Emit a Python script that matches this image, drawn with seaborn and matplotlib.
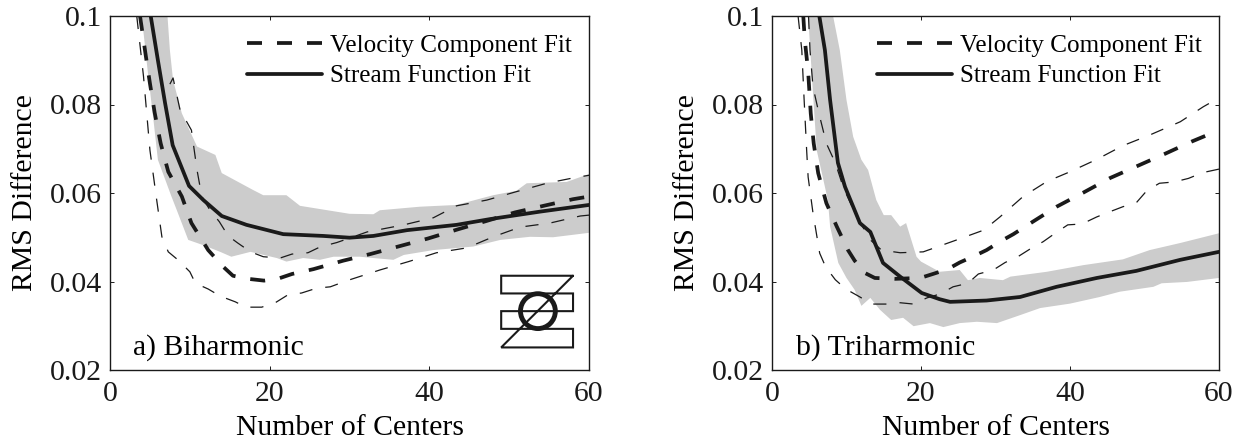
import matplotlib

matplotlib.use("Agg")
import matplotlib.pyplot as plt
import numpy as np
import pandas as pd
import seaborn as sns

# panel a) Biharmonic
a_stream_x = [5.1, 6.0, 6.9, 7.85, 9.9, 11.7, 14, 17.1, 21.7, 26.7, 30, 33, 37.2, 43.4, 47.6, 53.9, 60]
a_stream_y = [.1, .090, .0803, .0708, .0616, .0584, .0548, .0528, .0507, .0503, .0499, .0503, .0516, .0528, .0541, .0558, .0573]
a_vel_x = [3.76, 4.5, 5, 5.6, 6.35, 7.3, 9, 10.2, 12.3, 14.2, 15.4, 17.3, 19.3, 21, 22.8, 25.5, 29.2, 32.6, 36.3, 39.8, 43.6, 47.2, 50.7, 54.3, 58, 60]
a_vel_y = [.1, .0908, .0848, .0781, .0712, .0648, .0592, .0532, .0471, .0433, .0413, .0406, .0402, .0406, .0417, .0428, .0447, .0462, .048, .0497, .0518, .0537, .0556, .0571, .0586, .0592]
a_vel_hi_x = [7.5, 7.9, 8.77, 10.2, 10.9, 11.5, 12.5, 13.7, 14.8, 16, 17.6, 19.2, 21.3, 22.8, 24.8, 26.3, 28.4, 30, 32.2, 36.8, 40.5, 43.4, 47.2, 50.9, 54.7, 58, 60]
a_vel_hi_y = [.0846, .086, .0788, .0742, .0652, .0592, .0562, .0535, .0503, .0487, .0467, .0456, .0453, .0462, .0465, .0478, .0488, .0498, .0512, .0528, .0544, .0571, .0584, .0603, .0622, .0634, .0640]
a_vel_lo_x = [3.35, 4.2, 5, 5.85, 6.5, 7.3, 8.5, 10, 10.7, 12.3, 13.8, 15.7, 17, 19, 20.7, 22.3, 24, 25.9, 27.6, 29.7, 33.8, 37.4, 40.9, 44.7, 48, 51.4, 55.1, 58.9, 60]
a_vel_lo_y = [.1, .0863, .0697, .0584, .0501, .0467, .0449, .0422, .0396, .0383, .0367, .0354, .0342, .0342, .0352, .037, .0374, .0385, .0388, .0402, .0426, .0445, .0465, .0476, .0501, .0523, .0532, .0548, .055]
a_band_hi_x = [7.2, 7.5, 7.9, 9, 10.9, 13.2, 14, 17.9, 19.2, 22.1, 23.8, 30, 33, 33.8, 38.8, 43.4, 48, 50.9, 52.2, 57.2, 60]
a_band_hi_y = [.1, .0923, .0855, .078, .0705, .0686, .0645, .0607, .0595, .0595, .0571, .0553, .0552, .0561, .0569, .0573, .0595, .0605, .0622, .0625, .0643]
a_band_lo_x = [3.97, 4.8, 5.4, 6, 7.7, 8.35, 9.8, 11.7, 13.8, 15.2, 17.6, 20.9, 22.1, 24.2, 26.3, 28, 31.3, 33, 35.5, 36.8, 40.5, 45.5, 48.9, 52.6, 55.5, 60]
a_band_lo_y = [.1, .0863, .0772, .0675, .0592, .0562, .0494, .0482, .0467, .0456, .0467, .0453, .0445, .0453, .0449, .0456, .0456, .0453, .0449, .046, .0471, .0479, .0494, .0501, .05, .051]

# panel b) Triharmonic
b_stream_x = [6.35, 7.1, 7.8, 8.85, 9.8, 11.8, 13.2, 14.9, 17.2, 20.1, 22.5, 23.9, 28.8, 33.3, 38.2, 43.6, 48.9, 54.8, 60]
b_stream_y = [.1, .0923, .081, .0668, .0614, .0532, .0512, .0442, .0411, .0374, .036, .0354, .0357, .0365, .0388, .0408, .0424, .0449, .0467]
b_vel_x = [4.2, 4.4, 4.85, 5.2, 5.6, 6.2, 7.3, 8.7, 10.2, 11.1, 12.5, 13.8, 16.5, 19.9, 21.6, 23.6, 25.2, 27.2, 28.8, 30.8, 32.4, 35, 38.2, 41.8, 45.4, 48.9, 52.8, 56.3, 60]
b_vel_y = [.1, .0946, .0875, .078, .0712, .0645, .0577, .0524, .0471, .0447, .0419, .0408, .0406, .0408, .0417, .0428, .0443, .0458, .0471, .0492, .0507, .0535, .0569, .0601, .0634, .066, .0689, .0716, .0742]
b_vel_hi_x = [4.9, 5.1, 5.5, 6.3, 7.3, 8.5, 9.6, 11.4, 13.2, 14.7, 17.2, 20.3, 24.8, 28.4, 30.6, 33.7, 36.9, 40, 43.6, 47.1, 50.7, 54.8, 57.9, 60]
b_vel_hi_y = [.1, .0923, .084, .078, .0712, .0668, .0611, .0546, .0494, .0471, .0465, .0467, .0494, .0516, .0546, .0592, .0626, .0648, .0676, .0707, .0731, .0761, .0795, .0815]
b_vel_lo_x = [3.5, 4, 4.3, 4.65, 4.85, 5.5, 6.4, 7.2, 8.5, 9.9, 11.7, 13.4, 15.4, 17.2, 19, 20.8, 22.6, 24.3, 26.3, 27.7, 29.7, 31.3, 33, 34.6, 36.4, 38, 39.7, 41.6, 43.6, 45.4, 47.1, 48.9, 50.3, 52, 54, 55.9, 57.8, 60]
b_vel_lo_y = [.1, .0923, .0815, .0697, .0636, .0555, .0464, .0433, .0404, .0383, .0366, .0349, .0349, .0352, .0349, .0363, .0372, .0388, .0396, .0417, .0426, .0443, .0456, .0473, .049, .0509, .0528, .053, .0546, .0558, .0569, .0578, .0605, .0622, .0625, .0633, .0646, .0654]
b_band_hi_x = [8.2, 9.1, 10, 10.9, 12, 12.9, 14, 15, 16, 17.2, 18, 19.4, 20, 22.5, 25.2, 26.3, 27.9, 31, 32, 36.9, 41.8, 47.1, 50.7, 54.8, 60]
b_band_hi_y = [.1, .0923, .081, .0727, .0675, .0652, .0584, .055, .055, .0524, .0532, .0456, .0445, .0422, .0426, .0403, .0408, .0403, .0411, .0422, .0437, .045, .0471, .0487, .0509]
b_band_lo_x = [4.85, 5.5, 6, 7.5, 7.8, 8.9, 10, 11.1, 12, 13.2, 14.5, 16, 17.6, 19, 21.2, 23, 25.2, 27.5, 30.2, 33.3, 36, 40, 44, 46.7, 51.2, 52.3, 55.7, 60]
b_band_lo_y = [.1, .0826, .0697, .0584, .0524, .0442, .0408, .0381, .0345, .0363, .0336, .0313, .0318, .0299, .0306, .0297, .0306, .0309, .0306, .0324, .034, .035, .0365, .0377, .0388, .0396, .0399, .0408]

# the little cylinder sketch in panel a
icon_x = [58, 49, 49, 58, 58, 49, 49, 58, 58, 49, 58]
icon_y = [.0413, .0413, .0373, .0373, .0333, .0333, .0293, .0293, .0251, .0251, .0413]
circle_x = [53.6]
circle_y = [.0333]

x_ticks = [0, 20, 40, 60]
y_ticks = [0.02, 0.04, 0.06, 0.08, 0.1]
y_tick_labels = ["0.02", "0.04", "0.06", "0.08", "0.1"]

sns.set_theme(style="ticks")
plt.rcParams["font.family"] = ["Liberation Serif", "DejaVu Serif"]
plt.rcParams["text.color"] = "black"
plt.rcParams["axes.labelcolor"] = "black"

GREY = "#cccccc"
W, H = 1242, 441
FONT = 21.4


def long_table(xs, ys, name):
    return pd.DataFrame({"x": xs, "y": ys, "curve": name})


def draw_panel(ax, stream, vel, vel_hi, vel_lo, band_hi, band_lo, title, title_x, legend_x):
    ax.fill(
        np.r_[band_hi[0], band_lo[0][::-1]],
        np.r_[band_hi[1], band_lo[1][::-1]],
        color=GREY,
        lw=0,
    )
    for thin in (vel_hi, vel_lo):
        sns.lineplot(
            data=long_table(*thin, "thin"), x="x", y="y", ax=ax, color="k", lw=0.9,
            sort=False, errorbar=None, estimator=None, legend=False,
            dashes=False, linestyle=(0, (10.5, 10.5)),
        )
    sns.lineplot(
        data=long_table(*vel, "Velocity Component Fit"), x="x", y="y", ax=ax,
        color="k", lw=2.7, sort=False, estimator=None, errorbar=None,
        linestyle=(0, (4.0, 3.2)), label="Velocity Component Fit",
    )
    sns.lineplot(
        data=long_table(*stream, "Stream Function Fit"), x="x", y="y", ax=ax,
        color="k", lw=2.7, sort=False, estimator=None, errorbar=None,
        label="Stream Function Fit",
    )

    ax.set_xlim(0, 60)
    ax.set_ylim(0.02, 0.1)
    ax.set_xticks(x_ticks)
    ax.set_yticks(y_ticks)
    ax.set_yticklabels(y_tick_labels)
    ax.tick_params(
        direction="in", length=3, width=0.7, top=True, right=True,
        labelsize=FONT, colors="k",
    )
    ax.tick_params(axis="x", pad=8)
    ax.tick_params(axis="y", pad=5.5)
    ax.set_xlabel("Number of Centers", fontsize=FONT, labelpad=6)
    ax.set_ylabel("RMS Difference", fontsize=FONT, labelpad=9)
    for side in ax.spines.values():
        side.set_visible(True)
        side.set_linewidth(1.0)
        side.set_color("k")

    handles, labels = ax.get_legend_handles_labels()
    handles[0].set_linestyle((0, (4.0, 4.0)))
    ax.legend(
        handles, labels, loc="upper left", bbox_to_anchor=legend_x, frameon=False,
        fontsize=18.1, handlelength=3.0, handletextpad=0.32, labelspacing=0.33,
        borderpad=0, borderaxespad=0,
    )
    ax.text(title_x, 0.042, title, transform=ax.transAxes, fontsize=FONT, va="baseline")


fig = plt.figure(figsize=(W / 100, H / 100), dpi=100)
ax_a = fig.add_axes([110 / W, 1 - 370 / H, 479 / W, 354 / H])
ax_b = fig.add_axes([772 / W, 1 - 370 / H, 447 / W, 354 / H])

draw_panel(
    ax_a,
    (a_stream_x, a_stream_y),
    (a_vel_x, a_vel_y),
    (a_vel_hi_x, a_vel_hi_y),
    (a_vel_lo_x, a_vel_lo_y),
    (a_band_hi_x, a_band_hi_y),
    (a_band_lo_x, a_band_lo_y),
    "a) Biharmonic",
    23 / 479,
    (137 / 479, 1 - 18 / 354),
)
draw_panel(
    ax_b,
    (b_stream_x, b_stream_y),
    (b_vel_x, b_vel_y),
    (b_vel_hi_x, b_vel_hi_y),
    (b_vel_lo_x, b_vel_lo_y),
    (b_band_hi_x, b_band_hi_y),
    (b_band_lo_x, b_band_lo_y),
    "b) Triharmonic",
    24 / 447,
    (105 / 447, 1 - 18 / 354),
)

ax_a.plot(icon_x, icon_y, color="k", lw=1.5, solid_joinstyle="miter")
sns.scatterplot(
    x=circle_x, y=circle_y, ax=ax_a, s=630, facecolors="none", edgecolor="k",
    linewidth=3.5, legend=False, zorder=5,
)

fig.savefig("out.png", dpi=100)
